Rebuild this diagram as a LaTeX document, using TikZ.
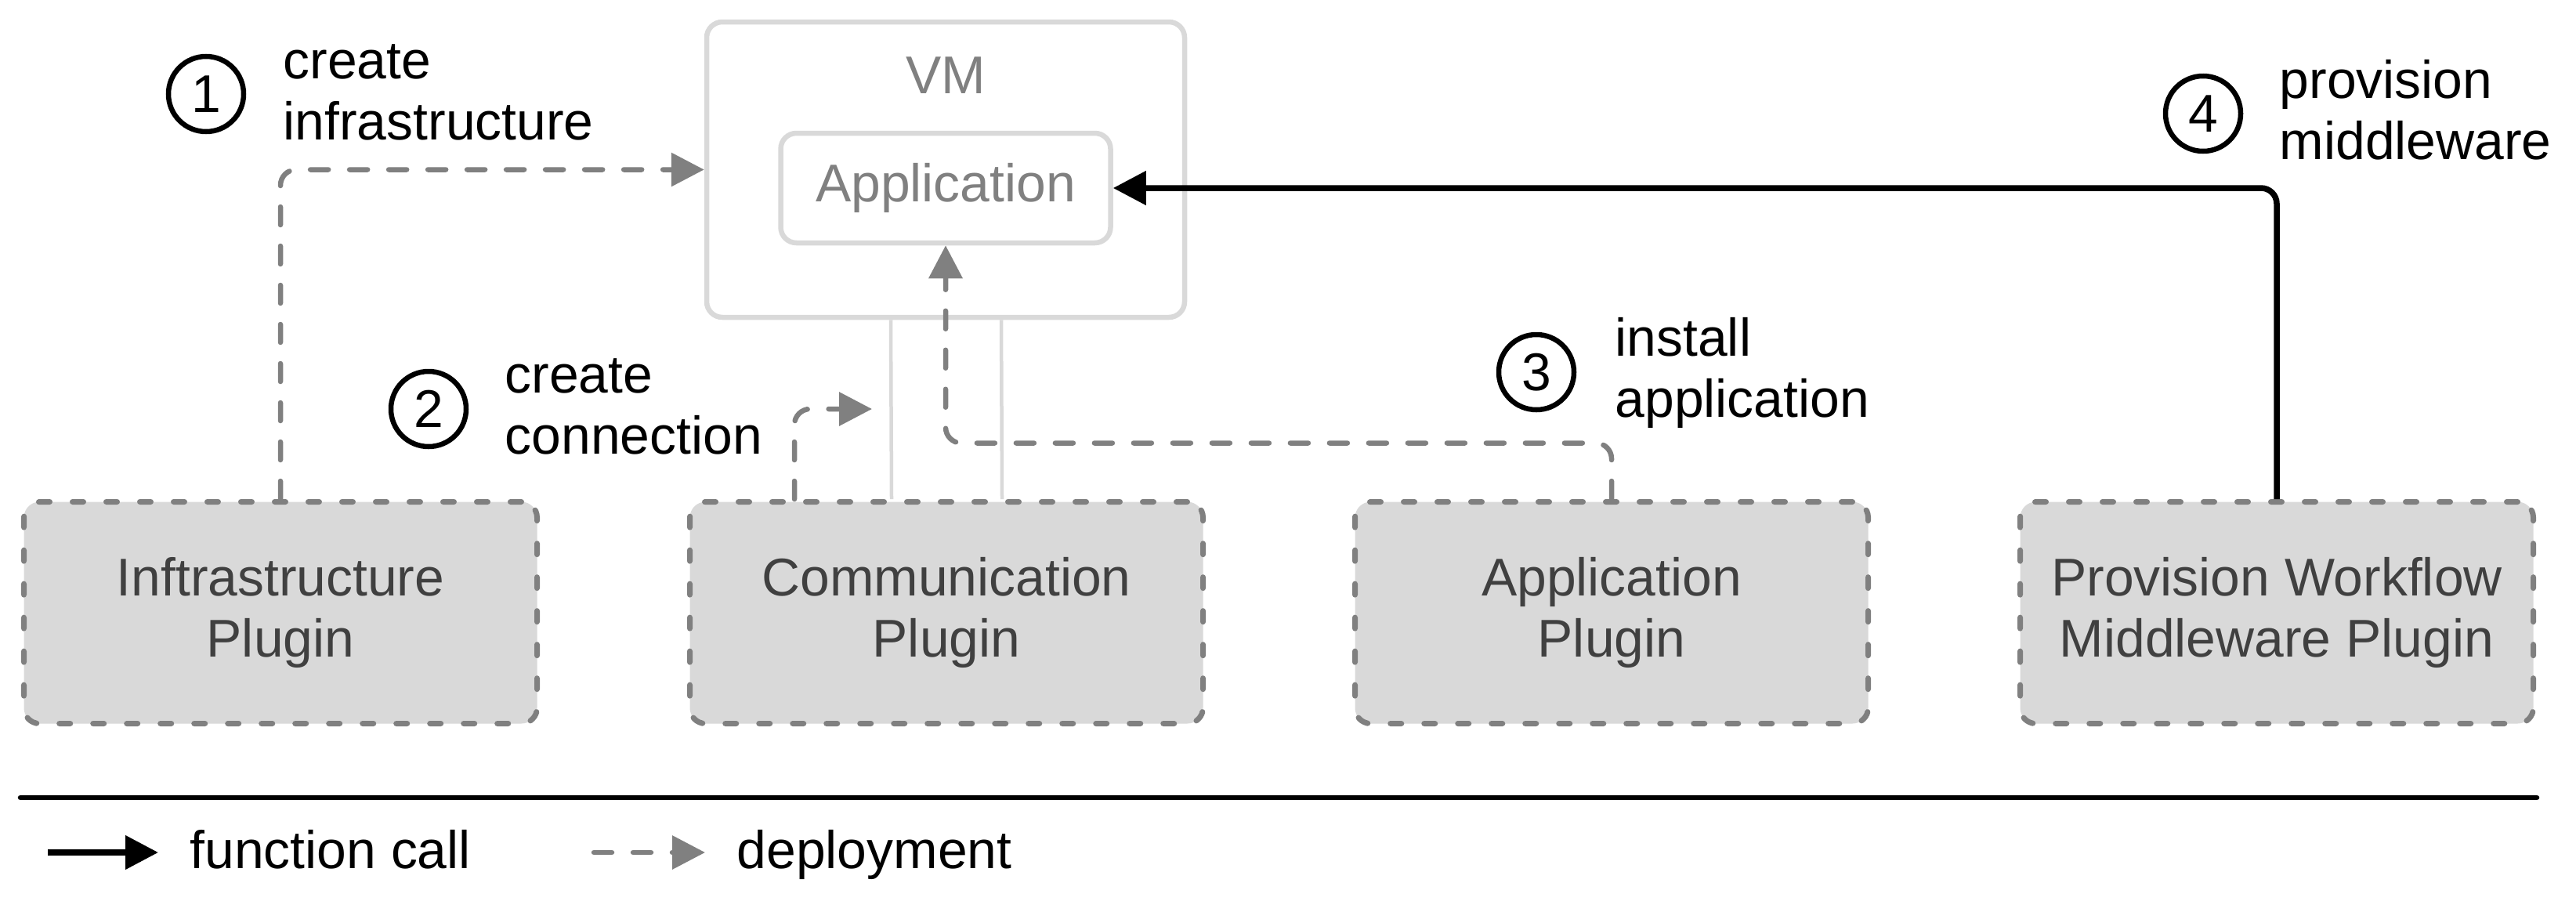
\documentclass[tikz,border=0pt]{standalone}
\usepackage{fontspec}
\setmainfont{Liberation Sans}
\usetikzlibrary{arrows.meta}

\definecolor{boxgray}{HTML}{D9D9D9}
\definecolor{linegray}{HTML}{808080}
\definecolor{textgray}{HTML}{404040}

\begin{document}
\begin{tikzpicture}[x=1cm,y=-1cm,
	font=\fontsize{19.3}{22.2}\selectfont,
	plugin/.style={draw=linegray,fill=boxgray,line width=.07cm,dash pattern=on .14cm off .29cm,line cap=round,rounded corners=.2cm,minimum width=6.55cm,minimum height=2.83cm,align=center,text=textgray},
	host/.style={draw=boxgray,line width=.065cm,rounded corners=.2cm,text=linegray},
	deploy/.style={linegray,line width=.065cm,dash pattern=on .23cm off .27cm,line cap=round,rounded corners=.2cm,-{Triangle[length=.42cm,width=.42cm]}},
	call/.style={black,line width=.075cm,rounded corners=.2cm,-{Triangle[length=.42cm,width=.42cm]}},
	stepnum/.style={circle,draw,line width=.065cm,minimum size=.96cm,inner sep=0pt},
	steptext/.style={anchor=west,align=left,inner sep=0pt}]
		\useasboundingbox (0,0) rectangle (32.88,11.63);
		% vm with the application inside
		\node[host,minimum width=6.10cm,minimum height=3.77cm] (vm) at (12.07,2.165) {};
		\node[text=linegray] (vmlabel) at (12.07,0.96) {VM};
		\node[host,minimum width=4.21cm,minimum height=1.40cm] (app) at (12.07,2.40) {Application};
		% plugins
		\foreach \nm/\xx/\txt in {infra/3.58/Inftrastructure\\Plugin,comm/12.08/Communication\\Plugin,appplug/20.57/Application\\Plugin,provision/29.06/Provision Workflow\\Middleware Plugin}
		{
			\node[plugin] (\nm) at (\xx,7.82) {\txt};
		}
		\draw[boxgray,line width=.045cm] ([xshift=-.70cm]vm.south)--([xshift=-.70cm]comm.north);
		\draw[boxgray,line width=.045cm] ([xshift=.71cm]vm.south)--([xshift=.71cm]comm.north);
		% steps
		\draw[deploy] (infra.north) |- (vm.west);
		\coordinate (conntip) at (11.13,5.22);
		\draw[deploy] ([xshift=-1.94cm]comm.north) |- (conntip);
		\draw[deploy] (appplug.north)--++(0,-.715) -| (app.south);
		\draw[call] (provision.north) |- (app.east);
		\node[stepnum] (s1) at (2.63,1.20) {1};
		\node[steptext] (t1) at (3.61,1.18) {create\\infrastructure};
		\node[stepnum] (s2) at (5.47,5.22) {2};
		\node[steptext] (t2) at (6.44,5.19) {create\\connection};
		\node[stepnum] (s3) at (19.61,4.75) {3};
		\node[steptext] (t3) at (20.61,4.76) {install\\application};
		\node[stepnum] (s4) at (28.12,1.45) {4};
		\node[steptext] (t4) at (29.09,1.40) {provision\\middleware};
		% legend
		\draw[line width=.065cm,line cap=round] (0.26,10.18)--(32.38,10.18);
		\coordinate (callA) at (0.61,10.88);
		\coordinate (callB) at (2.02,10.88);
		\draw[call] (callA)--(callB);
		\node[anchor=base west,inner sep=0pt] (callkey) at (2.42,11.08) {function call};
		\coordinate (depA) at (7.58,10.88);
		\coordinate (depB) at (9.00,10.88);
		\draw[deploy] (depA)--(depB);
		\node[anchor=base west,inner sep=0pt] (depkey) at (9.40,11.08) {deployment};
	\end{tikzpicture}
\end{document}
